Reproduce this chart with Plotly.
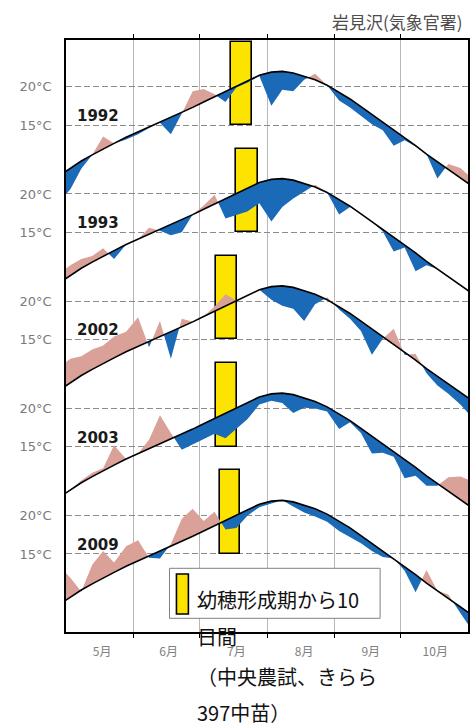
import plotly.graph_objects as go

# ---------------- data ----------------
years = ["1992", "1993", "2002", "2003", "2009"]

# pentad centres, days counted from 1 May (0 = 1 May)
days = [-3, 2, 7, 12, 17, 22, 27.5, 33, 38, 43, 48, 53, 58, 63, 68, 73, 78, 83, 88.5,
        94, 99, 104, 109, 114, 119.5, 125, 130, 135, 140, 145, 150, 155, 160, 165, 170,
        175, 180.5, 186]

# normal (平年値) pentad mean temperature, deg C
normal = [8.4, 9.4, 10.3, 11.1, 11.9, 12.6, 13.4, 14.1, 14.7, 15.4, 16.0, 16.6, 17.3,
          18.0, 18.7, 19.4, 20.1, 20.8, 21.5, 21.9, 22.0, 21.8, 21.4, 20.9, 20.2, 19.3,
          18.4, 17.4, 16.4, 15.4, 14.4, 13.4, 12.3, 11.2, 10.2, 9.2, 8.1, 7.0]

temp_1992 = [5.0, 6.6, 9.3, 11.1, 13.5, 12.6, 13.1, 13.8, 14.6, 15.3, 13.8, 16.5, 19.4,
             19.7, 19.0, 18.0, 19.9, 20.5, 21.4, 17.5, 19.6, 19.4, 20.9, 21.7, 20.2, 18.2,
             17.3, 16.2, 15.1, 14.3, 12.3, 13.0, 12.2, 11.2, 8.0, 9.9, 9.4, 8.0]
temp_1993 = [9.6, 10.7, 11.5, 11.9, 12.9, 11.5, 13.4, 14.1, 15.6, 15.2, 14.6, 15.0, 17.3,
             18.5, 19.9, 16.8, 17.2, 17.7, 18.8, 16.4, 18.3, 19.4, 20.3, 21.2, 20.2, 17.3,
             18.3, 17.4, 16.4, 15.1, 12.5, 13.0, 9.9, 10.7, 10.2, 9.2, 8.1, 7.0]
temp_2002 = [11.4, 12.5, 12.8, 13.7, 14.2, 15.4, 16.0, 17.9, 14.0, 17.4, 12.5, 17.7, 17.3,
             18.0, 19.3, 20.9, 20.1, 20.8, 21.5, 20.2, 19.4, 19.0, 17.4, 19.6, 20.5, 18.9,
             17.7, 16.1, 13.0, 15.1, 16.4, 13.0, 13.1, 10.6, 9.0, 7.9, 6.5, 4.8]
temp_2003 = [8.1, 9.4, 10.6, 11.6, 12.2, 15.2, 13.4, 14.1, 15.9, 19.1, 16.8, 14.6, 15.3,
             16.0, 16.7, 16.1, 17.3, 18.6, 20.5, 21.0, 20.7, 19.4, 20.1, 20.0, 19.6, 17.3,
             18.2, 16.8, 14.1, 14.2, 13.7, 10.9, 11.2, 9.9, 9.9, 11.0, 11.1, 10.5]
temp_2009 = [13.4, 11.9, 10.1, 13.6, 15.4, 13.9, 16.0, 16.8, 14.5, 14.4, 16.3, 19.6, 20.9,
             19.3, 20.5, 18.2, 18.4, 20.0, 21.1, 21.6, 22.0, 21.2, 20.4, 19.9, 19.2, 18.0,
             17.2, 16.4, 15.4, 14.6, 14.4, 12.8, 10.0, 12.9, 10.2, 9.7, 7.3, 5.0]
temps = [temp_1992, temp_1993, temp_2002, temp_2003, temp_2009]

# 幼穂形成期から10日間 (days from 1 May)
bar_start = [75.6, 77.9, 68.6, 68.6, 70.4]
bar_end = [85.1, 87.9, 78.2, 78.2, 79.8]
bar_low = 15.0
bar_high = 25.9

month_labels = ["5月", "6月", "7月", "8月", "9月", "10月"]
month_label_pos = [16.5, 47, 78, 109, 139.5, 169]
month_bounds = [31, 61, 92, 123, 153]

ytick_temps = [20, 15]
ytick_text = ["20°C", "15°C"]

title_text = "岩見沢(気象官署)"
legend_lines = ["幼穂形成期から10", "日間", "（中央農試、きらら", "397中苗）"]

# ---------------- style ----------------
PANEL_SHIFT = 14.0
PINK = "#d9a198"
BLUE = "#1a6ab8"
YELLOW = "#fce400"
W, H = 473, 726
L, R, T, B = 66, 3, 40, 94
PW, PH = W - L - R, H - T - B
JP = "Noto Sans CJK JP"


def px_x(px):
    return (px - L) / PW


def px_y(py):
    return 1 - (py - T) / PH


def split_fill(x, n, a):
    xs, ns, up, lo = [], [], [], []
    for i in range(len(x)):
        if i > 0:
            d0 = a[i - 1] - n[i - 1]
            d1 = a[i] - n[i]
            if d0 * d1 < 0:
                t = d0 / (d0 - d1)
                xc = x[i - 1] + t * (x[i] - x[i - 1])
                nc = n[i - 1] + t * (n[i] - n[i - 1])
                xs.append(xc); ns.append(nc); up.append(nc); lo.append(nc)
        xs.append(x[i]); ns.append(n[i])
        up.append(max(a[i], n[i])); lo.append(min(a[i], n[i]))
    return xs, ns, up, lo


fig = go.Figure()

# yellow bars (drawn under the fills, as in the original)
fig.add_trace(go.Bar(
    x=[(s + e) / 2 for s, e in zip(bar_start, bar_end)],
    y=[bar_high - bar_low] * len(years),
    base=[bar_low - k * PANEL_SHIFT for k in range(len(years))],
    width=[e - s for s, e in zip(bar_start, bar_end)],
    marker=dict(color=YELLOW, line=dict(color="black", width=1.6)),
    hoverinfo="skip", showlegend=False,
))

for k, (yr, a) in enumerate(zip(years, temps)):
    off = k * PANEL_SHIFT
    xs, ns, up, lo = split_fill(days, normal, a)
    nsh = [v - off for v in ns]
    common = dict(mode="lines", line=dict(width=0), hoverinfo="skip", showlegend=False)
    fig.add_trace(go.Scatter(x=xs, y=nsh, **common))
    fig.add_trace(go.Scatter(x=xs, y=[v - off for v in up], fill="tonexty",
                             fillcolor=PINK, **common))
    fig.add_trace(go.Scatter(x=xs, y=nsh, **common))
    fig.add_trace(go.Scatter(x=xs, y=[v - off for v in lo], fill="tonexty",
                             fillcolor=BLUE, **common))
    fig.add_trace(go.Scatter(x=days, y=[v - off for v in normal], mode="lines",
                             line=dict(color="black", width=1.6),
                             hoverinfo="skip", showlegend=False))
    fig.add_annotation(x=px_x(75), xref="paper", y=16.2 - off, yref="y",
                       text="<b>" + yr + "</b>", showarrow=False,
                       xanchor="left", yanchor="middle",
                       font=dict(family="DejaVu Sans", size=15, color="#1a1a1a"))

yvals, ytext = [], []
for k in range(len(years)):
    for tv, tt in zip(ytick_temps, ytick_text):
        yvals.append(tv - k * PANEL_SHIFT)
        ytext.append(tt)

top_y = 20 + (86.7 - T) / 7.66
fig.update_yaxes(
    range=[top_y - PH / 7.66, top_y],
    tickvals=yvals, ticktext=ytext, ticks="",
    showgrid=True, gridcolor="#8c8c8c", gridwidth=1.3, griddash="6px,3px",
    zeroline=False, showline=True, linecolor="black", linewidth=1.6, mirror=True,
    tickfont=dict(family="DejaVu Sans", size=13, color="#7a7a7a"),
    ticklabelstandoff=10, fixedrange=True,
)
fig.update_xaxes(
    range=[0, 184],
    tickvals=month_label_pos, ticktext=month_labels, ticks="",
    showgrid=False, zeroline=False,
    showline=True, linecolor="black", linewidth=1.6, mirror="ticks",
    minor=dict(tickvals=month_bounds, ticks="outside", ticklen=4, tickcolor="black",
               tickwidth=1, showgrid=True, gridcolor="#b8b8b8", gridwidth=1),
    tickfont=dict(family=JP, size=12, color="#808080"),
    ticklabelstandoff=8, fixedrange=True,
)

# title
fig.add_annotation(x=px_x(331), xref="paper", y=px_y(21.5), yref="paper",
                   text=title_text, showarrow=False, xanchor="left", yanchor="middle",
                   font=dict(family=JP, size=17, color="#4d4d4d"))

# legend box
fig.add_shape(type="rect", xref="paper", yref="paper",
              x0=px_x(170), x1=px_x(381.7), y0=px_y(618.3), y1=px_y(568.3),
              line=dict(color="#808080", width=1), fillcolor="white", layer="above")
fig.add_shape(type="rect", xref="paper", yref="paper",
              x0=px_x(177), x1=px_x(189), y0=px_y(614), y1=px_y(574),
              line=dict(color="black", width=1.6), fillcolor=YELLOW, layer="above")
for txt, cy in zip(legend_lines, [599.5, 636.5, 676, 712.5]):
    fig.add_annotation(x=px_x(196), xref="paper", y=px_y(cy), yref="paper",
                       text=txt, showarrow=False, xanchor="left", yanchor="middle",
                       font=dict(family=JP, size=20, color="#111111"))

fig.update_layout(
    width=W, height=H, autosize=False,
    margin=dict(l=L, r=R, t=T, b=B, pad=0),
    paper_bgcolor="white", plot_bgcolor="white",
    showlegend=False, bargap=0,
    font=dict(family="DejaVu Sans"),
)

fig.write_html("out.html", config={"displayModeBar": False})
